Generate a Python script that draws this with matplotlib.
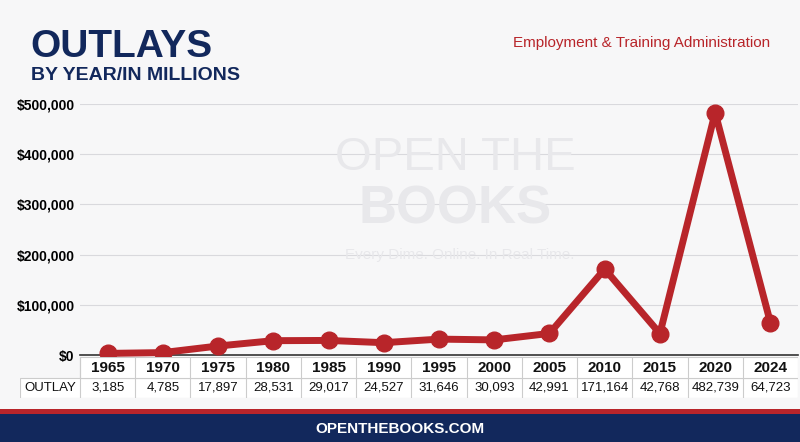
import matplotlib.pyplot as plt
from matplotlib.patches import Rectangle

years = ['1965', '1970', '1975', '1980', '1985', '1990', '1995',
         '2000', '2005', '2010', '2015', '2020', '2024']
outlay = [3185, 4785, 17897, 28531, 29017, 24527, 31646,
          30093, 42991, 171164, 42768, 482739, 64723]
yticks = [0, 100000, 200000, 300000, 400000, 500000]

navy = '#12285c'
red = '#b8252a'
W, H = 800, 442

plt.rcParams['font.family'] = 'Liberation Sans'
fig = plt.figure(figsize=(8, 4.42), dpi=100)
fig.patch.set_facecolor('#f7f7f8')

def fx(px):
    return px / W

def fy(py):
    return 1 - py / H

# watermark
fig.text(fx(455), fy(158), 'OPEN THE', fontsize=34, color='#e8e8eb', ha='center', va='center')
fig.text(fx(455), fy(210), 'BOOKS', fontsize=38, color='#e8e8eb', ha='center', va='center', weight='bold')
fig.text(fx(460), fy(255), 'Every Dime. Online. In Real Time.', fontsize=11, color='#e8e8eb', ha='center', va='center')

# main plot
ax = fig.add_axes([fx(80), fy(355), fx(718), fy(104) - fy(355)])
ax.patch.set_alpha(0)
x = list(range(len(years)))
ax.plot(x, outlay, color=red, linewidth=5, marker='o', markersize=12, clip_on=False, zorder=3)
ax.set_xlim(-0.5, 12.5)
ax.set_ylim(0, 500000)
ax.set_yticks(yticks)
ax.set_yticklabels(['$0' if v == 0 else '${:,}'.format(v) for v in yticks],
                   fontsize=10, weight='bold')
ax.set_xticks([])
ax.tick_params(axis='y', length=0, pad=4)
ax.grid(axis='y', color='#d9d9dd', linewidth=0.8)
for s in ['top', 'right', 'left']:
    ax.spines[s].set_visible(False)
ax.spines['bottom'].set_color('#333333')
ax.spines['bottom'].set_linewidth(1.2)

# table
tab = fig.add_axes([fx(20), fy(398), fx(778), fy(357) - fy(398)])
tab.set_xlim(0, 778)
tab.set_ylim(0, 41)
tab.axis('off')
col0 = 60
cw = (778 - col0) / len(years)
tab.add_patch(Rectangle((0, 0), 778, 20, facecolor='white', edgecolor='#cccccc', lw=0.8))
tab.add_patch(Rectangle((col0, 20), 778 - col0, 21, facecolor='white', edgecolor='#cccccc', lw=0.8))
tab.plot([col0, col0], [0, 41], color='#cccccc', lw=0.8)
for i, (yr, v) in enumerate(zip(years, outlay)):
    cx = col0 + cw * (i + 0.5)
    if i > 0:
        tab.plot([col0 + cw * i] * 2, [0, 41], color='#cccccc', lw=0.8)
    tab.text(cx, 30.5, yr, ha='center', va='center', fontsize=11, weight='bold', color='#111111')
    tab.text(cx, 10, '{:,}'.format(v), ha='center', va='center', fontsize=9.5, color='#111111')
tab.text(col0 / 2, 10, 'OUTLAY', ha='center', va='center', fontsize=9.5, color='#111111')

# titles
fig.text(fx(30), fy(47), 'OUTLAYS', fontsize=28, weight='bold', color=navy, va='center')
fig.text(fx(31), fy(75), 'BY YEAR/IN MILLIONS', fontsize=14, weight='bold', color=navy, va='center')
fig.text(fx(770), fy(43), 'Employment & Training Administration', fontsize=11,
         color=red, ha='right', va='center')

# footer
fig.add_artist(Rectangle((0, 0), 1, fy(414), transform=fig.transFigure, facecolor=navy, edgecolor='none'))
fig.add_artist(Rectangle((0, fy(414)), 1, fy(409) - fy(414), transform=fig.transFigure, facecolor=red, edgecolor='none'))
fig.text(0.5, fy(429), 'OPENTHEBOOKS.COM', fontsize=11, weight='bold', color='white', ha='center', va='center')

fig.savefig('out.png', dpi=100, facecolor=fig.get_facecolor())
